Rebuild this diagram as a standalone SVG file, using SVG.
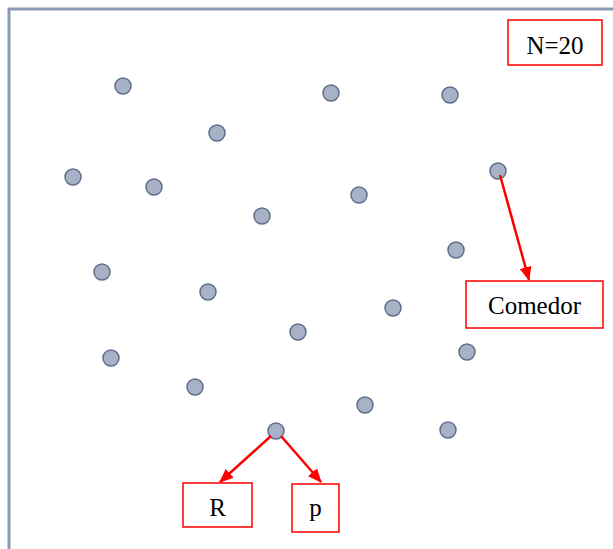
<svg xmlns="http://www.w3.org/2000/svg" width="613" height="549" viewBox="0 0 613 549">
<defs>
<style>
.node{fill:#a7b2c6;stroke:#5e6e8a;stroke-width:1.5}
.box{fill:#fff;stroke:#ff0000;stroke-width:1.5}
.lbl{font-family:"Liberation Serif",serif;font-size:25px;fill:#000;text-anchor:middle}
.arr{stroke:#ff0000;stroke-width:2.5;fill:none;marker-end:url(#ah)}
</style>
<marker id="ah" markerWidth="14" markerHeight="12" refX="13" refY="6" orient="auto" markerUnits="userSpaceOnUse">
<path d="M0,0 L14,6 L0,12 Z" fill="#ff0000"/>
</marker>
</defs>
<rect x="0" y="0" width="613" height="549" fill="#fff"/>
<path d="M9,549 L9,9 L613,9" fill="none" stroke="#8a9bb4" stroke-width="3"/>
<g id="nodes">
<circle id="n1" class="node" cx="123" cy="86" r="8"/>
<circle id="n2" class="node" cx="331" cy="93" r="8"/>
<circle id="n3" class="node" cx="450" cy="95" r="8"/>
<circle id="n4" class="node" cx="217" cy="133" r="8"/>
<circle id="n5" class="node" cx="73" cy="177" r="8"/>
<circle id="n6" class="node" cx="154" cy="187" r="8"/>
<circle id="n7" class="node" cx="498" cy="171" r="8"/>
<circle id="n8" class="node" cx="359" cy="195" r="8"/>
<circle id="n9" class="node" cx="262" cy="216" r="8"/>
<circle id="n10" class="node" cx="456" cy="250" r="8"/>
<circle id="n11" class="node" cx="102" cy="272" r="8"/>
<circle id="n12" class="node" cx="208" cy="292" r="8"/>
<circle id="n13" class="node" cx="393" cy="308" r="8"/>
<circle id="n14" class="node" cx="298" cy="332" r="8"/>
<circle id="n15" class="node" cx="467" cy="352" r="8"/>
<circle id="n16" class="node" cx="111" cy="358" r="8"/>
<circle id="n17" class="node" cx="195" cy="387" r="8"/>
<circle id="n18" class="node" cx="365" cy="405" r="8"/>
<circle id="n19" class="node" cx="276" cy="431" r="8"/>
<circle id="n20" class="node" cx="448" cy="430" r="8"/>
</g>
<g id="connectors">
<line class="arr" x1="500" y1="175" x2="529" y2="280"/>
<line class="arr" x1="271" y1="436" x2="220" y2="482"/>
<line class="arr" x1="281" y1="436" x2="321" y2="482"/>
</g>
<g id="boxN">
<rect class="box" x="508" y="20" width="94" height="45"/>
<text class="lbl" x="555" y="54">N=20</text>
</g>
<g id="boxComedor">
<rect class="box" x="466" y="281" width="137" height="47"/>
<text class="lbl" x="534.5" y="314">Comedor</text>
</g>
<g id="boxR">
<rect class="box" x="183" y="483" width="69" height="44"/>
<text class="lbl" x="217.5" y="516">R</text>
</g>
<g id="boxP">
<rect class="box" x="292" y="484" width="47" height="48"/>
<text class="lbl" x="315.5" y="516">p</text>
</g>
</svg>
